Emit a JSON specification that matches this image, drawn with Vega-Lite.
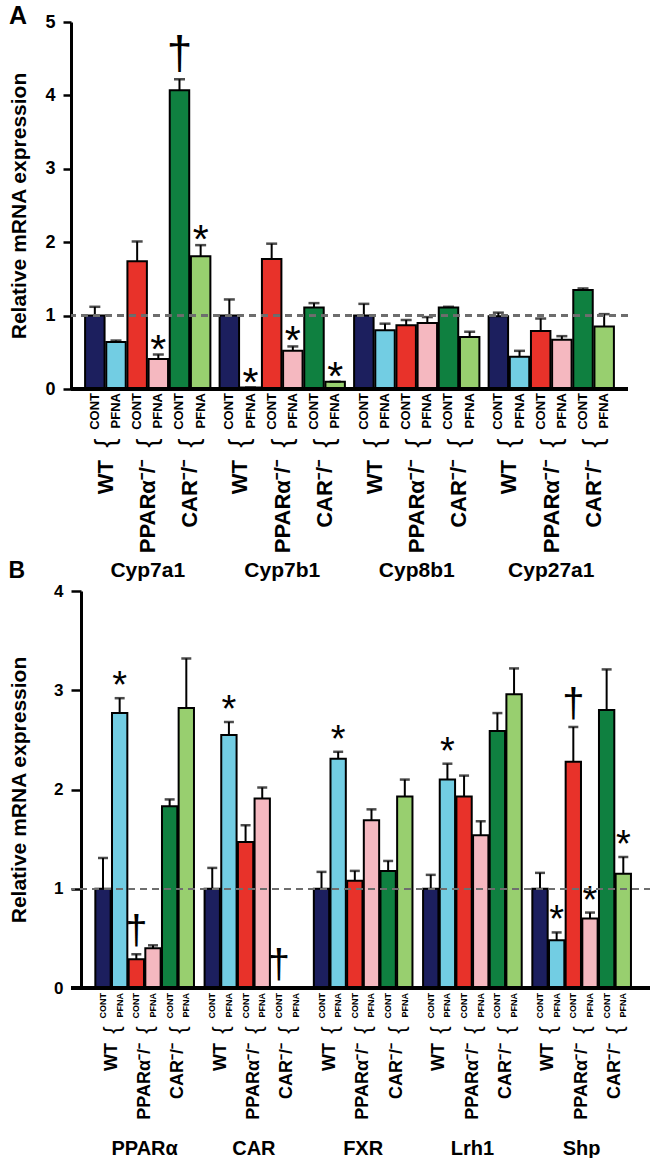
{
  "$schema": "https://vega.github.io/schema/vega-lite/v6.json",
  "padding": {"left": 8, "top": 4, "right": 0, "bottom": 0},
  "background": "white",
  "config": {"view": {"stroke": null}, "font": "Liberation Sans"},
  "datasets": {
    "A": [
      {"gene": "Cyp7a1", "geno": "WT", "trt": "CONT", "grp": "WT CONT", "val": 1.00, "err": 1.12, "sig": ""},
      {"gene": "Cyp7a1", "geno": "WT", "trt": "PFNA", "grp": "WT PFNA", "val": 0.64, "err": 0.66, "sig": ""},
      {"gene": "Cyp7a1", "geno": "PPARα⁻/⁻", "trt": "CONT", "grp": "PPARα CONT", "val": 1.74, "err": 2.01, "sig": ""},
      {"gene": "Cyp7a1", "geno": "PPARα⁻/⁻", "trt": "PFNA", "grp": "PPARα PFNA", "val": 0.41, "err": 0.47, "sig": "*"},
      {"gene": "Cyp7a1", "geno": "CAR⁻/⁻", "trt": "CONT", "grp": "CAR CONT", "val": 4.07, "err": 4.22, "sig": "†"},
      {"gene": "Cyp7a1", "geno": "CAR⁻/⁻", "trt": "PFNA", "grp": "CAR PFNA", "val": 1.81, "err": 1.96, "sig": "*"},
      {"gene": "Cyp7b1", "geno": "WT", "trt": "CONT", "grp": "WT CONT", "val": 1.00, "err": 1.22, "sig": ""},
      {"gene": "Cyp7b1", "geno": "WT", "trt": "PFNA", "grp": "WT PFNA", "val": 0.02, "err": 0.02, "sig": "*"},
      {"gene": "Cyp7b1", "geno": "PPARα⁻/⁻", "trt": "CONT", "grp": "PPARα CONT", "val": 1.77, "err": 1.98, "sig": ""},
      {"gene": "Cyp7b1", "geno": "PPARα⁻/⁻", "trt": "PFNA", "grp": "PPARα PFNA", "val": 0.52, "err": 0.58, "sig": "*"},
      {"gene": "Cyp7b1", "geno": "CAR⁻/⁻", "trt": "CONT", "grp": "CAR CONT", "val": 1.11, "err": 1.17, "sig": ""},
      {"gene": "Cyp7b1", "geno": "CAR⁻/⁻", "trt": "PFNA", "grp": "CAR PFNA", "val": 0.10, "err": 0.10, "sig": "*"},
      {"gene": "Cyp8b1", "geno": "WT", "trt": "CONT", "grp": "WT CONT", "val": 1.00, "err": 1.16, "sig": ""},
      {"gene": "Cyp8b1", "geno": "WT", "trt": "PFNA", "grp": "WT PFNA", "val": 0.80, "err": 0.89, "sig": ""},
      {"gene": "Cyp8b1", "geno": "PPARα⁻/⁻", "trt": "CONT", "grp": "PPARα CONT", "val": 0.87, "err": 0.94, "sig": ""},
      {"gene": "Cyp8b1", "geno": "PPARα⁻/⁻", "trt": "PFNA", "grp": "PPARα PFNA", "val": 0.90, "err": 0.98, "sig": ""},
      {"gene": "Cyp8b1", "geno": "CAR⁻/⁻", "trt": "CONT", "grp": "CAR CONT", "val": 1.11, "err": 1.12, "sig": ""},
      {"gene": "Cyp8b1", "geno": "CAR⁻/⁻", "trt": "PFNA", "grp": "CAR PFNA", "val": 0.71, "err": 0.78, "sig": ""},
      {"gene": "Cyp27a1", "geno": "WT", "trt": "CONT", "grp": "WT CONT", "val": 0.99, "err": 1.04, "sig": ""},
      {"gene": "Cyp27a1", "geno": "WT", "trt": "PFNA", "grp": "WT PFNA", "val": 0.44, "err": 0.52, "sig": ""},
      {"gene": "Cyp27a1", "geno": "PPARα⁻/⁻", "trt": "CONT", "grp": "PPARα CONT", "val": 0.79, "err": 0.96, "sig": ""},
      {"gene": "Cyp27a1", "geno": "PPARα⁻/⁻", "trt": "PFNA", "grp": "PPARα PFNA", "val": 0.67, "err": 0.72, "sig": ""},
      {"gene": "Cyp27a1", "geno": "CAR⁻/⁻", "trt": "CONT", "grp": "CAR CONT", "val": 1.35, "err": 1.37, "sig": ""},
      {"gene": "Cyp27a1", "geno": "CAR⁻/⁻", "trt": "PFNA", "grp": "CAR PFNA", "val": 0.85, "err": 1.02, "sig": ""}
    ],
    "B": [
      {"gene": "PPARα", "geno": "WT", "trt": "CONT", "grp": "WT CONT", "val": 1.00, "err": 1.31, "sig": ""},
      {"gene": "PPARα", "geno": "WT", "trt": "PFNA", "grp": "WT PFNA", "val": 2.77, "err": 2.92, "sig": "*"},
      {"gene": "PPARα", "geno": "PPARα⁻/⁻", "trt": "CONT", "grp": "PPARα CONT", "val": 0.29, "err": 0.34, "sig": "†"},
      {"gene": "PPARα", "geno": "PPARα⁻/⁻", "trt": "PFNA", "grp": "PPARα PFNA", "val": 0.40, "err": 0.43, "sig": ""},
      {"gene": "PPARα", "geno": "CAR⁻/⁻", "trt": "CONT", "grp": "CAR CONT", "val": 1.83, "err": 1.90, "sig": ""},
      {"gene": "PPARα", "geno": "CAR⁻/⁻", "trt": "PFNA", "grp": "CAR PFNA", "val": 2.82, "err": 3.32, "sig": ""},
      {"gene": "CAR", "geno": "WT", "trt": "CONT", "grp": "WT CONT", "val": 1.00, "err": 1.21, "sig": ""},
      {"gene": "CAR", "geno": "WT", "trt": "PFNA", "grp": "WT PFNA", "val": 2.55, "err": 2.68, "sig": "*"},
      {"gene": "CAR", "geno": "PPARα⁻/⁻", "trt": "CONT", "grp": "PPARα CONT", "val": 1.47, "err": 1.64, "sig": ""},
      {"gene": "CAR", "geno": "PPARα⁻/⁻", "trt": "PFNA", "grp": "PPARα PFNA", "val": 1.91, "err": 2.02, "sig": ""},
      {"gene": "CAR", "geno": "CAR⁻/⁻", "trt": "CONT", "grp": "CAR CONT", "val": 0, "err": 0, "sig": "†"},
      {"gene": "CAR", "geno": "CAR⁻/⁻", "trt": "PFNA", "grp": "CAR PFNA", "val": 0, "err": 0, "sig": ""},
      {"gene": "FXR", "geno": "WT", "trt": "CONT", "grp": "WT CONT", "val": 1.00, "err": 1.17, "sig": ""},
      {"gene": "FXR", "geno": "WT", "trt": "PFNA", "grp": "WT PFNA", "val": 2.31, "err": 2.38, "sig": "*"},
      {"gene": "FXR", "geno": "PPARα⁻/⁻", "trt": "CONT", "grp": "PPARα CONT", "val": 1.08, "err": 1.18, "sig": ""},
      {"gene": "FXR", "geno": "PPARα⁻/⁻", "trt": "PFNA", "grp": "PPARα PFNA", "val": 1.69, "err": 1.80, "sig": ""},
      {"gene": "FXR", "geno": "CAR⁻/⁻", "trt": "CONT", "grp": "CAR CONT", "val": 1.18, "err": 1.28, "sig": ""},
      {"gene": "FXR", "geno": "CAR⁻/⁻", "trt": "PFNA", "grp": "CAR PFNA", "val": 1.93, "err": 2.10, "sig": ""},
      {"gene": "Lrh1", "geno": "WT", "trt": "CONT", "grp": "WT CONT", "val": 1.00, "err": 1.14, "sig": ""},
      {"gene": "Lrh1", "geno": "WT", "trt": "PFNA", "grp": "WT PFNA", "val": 2.10, "err": 2.26, "sig": "*"},
      {"gene": "Lrh1", "geno": "PPARα⁻/⁻", "trt": "CONT", "grp": "PPARα CONT", "val": 1.93, "err": 2.14, "sig": ""},
      {"gene": "Lrh1", "geno": "PPARα⁻/⁻", "trt": "PFNA", "grp": "PPARα PFNA", "val": 1.54, "err": 1.68, "sig": ""},
      {"gene": "Lrh1", "geno": "CAR⁻/⁻", "trt": "CONT", "grp": "CAR CONT", "val": 2.59, "err": 2.77, "sig": ""},
      {"gene": "Lrh1", "geno": "CAR⁻/⁻", "trt": "PFNA", "grp": "CAR PFNA", "val": 2.96, "err": 3.22, "sig": ""},
      {"gene": "Shp", "geno": "WT", "trt": "CONT", "grp": "WT CONT", "val": 1.00, "err": 1.16, "sig": ""},
      {"gene": "Shp", "geno": "WT", "trt": "PFNA", "grp": "WT PFNA", "val": 0.48, "err": 0.56, "sig": "*"},
      {"gene": "Shp", "geno": "PPARα⁻/⁻", "trt": "CONT", "grp": "PPARα CONT", "val": 2.28, "err": 2.63, "sig": "†"},
      {"gene": "Shp", "geno": "PPARα⁻/⁻", "trt": "PFNA", "grp": "PPARα PFNA", "val": 0.70, "err": 0.76, "sig": "*"},
      {"gene": "Shp", "geno": "CAR⁻/⁻", "trt": "CONT", "grp": "CAR CONT", "val": 2.80, "err": 3.21, "sig": ""},
      {"gene": "Shp", "geno": "CAR⁻/⁻", "trt": "PFNA", "grp": "CAR PFNA", "val": 1.15, "err": 1.32, "sig": "*"}
    ]
  },
  "bounds": "flush",
  "spacing": 202,
  "resolve": {"scale": {"x": "independent", "xOffset": "independent", "y": "independent"}},
  "vconcat": [
    {
      "width": 557,
      "height": 367,
      "title": {"text": "A", "anchor": "start", "frame": "bounds", "fontSize": 25, "font": "Liberation Sans", "fontWeight": "bold", "color": "black", "baseline": "alphabetic", "offset": -25, "dy": 11},
      "data": {"name": "A"},
      "layer": [
        {
          "encoding": {
            "x": {"field": "gene", "type": "nominal", "sort": ["Cyp7a1", "Cyp7b1", "Cyp8b1", "Cyp27a1"], "scale": {"paddingInner": 0.056, "paddingOuter": 0.0985},
              "axis": {"title": null, "orient": "bottom", "offset": 170, "domain": false, "ticks": false, "labelAngle": 0, "labelFont": "Liberation Sans", "labelFontSize": 21, "labelFontWeight": "bold", "labelColor": "black", "labelPadding": 0}},
            "xOffset": {"field": "grp", "type": "nominal", "sort": ["WT CONT", "WT PFNA", "PPARα CONT", "PPARα PFNA", "CAR CONT", "CAR PFNA"], "scale": {"paddingInner": 0.08, "paddingOuter": 0.04}}
          },
          "layer": [
            {
              "mark": {"type": "bar", "stroke": "black", "strokeWidth": 2},
              "encoding": {
                "y": {"field": "val", "type": "quantitative", "scale": {"domain": [0, 5], "nice": false},
                  "axis": {"title": "Relative mRNA expression", "titleFont": "Liberation Sans", "titleFontSize": 21, "titleFontWeight": "bold", "titleColor": "black", "titlePadding": 15, "values": [0, 1, 2, 3, 4, 5], "format": "d", "labelFont": "Liberation Sans", "labelFontSize": 18, "labelFontWeight": "bold", "labelColor": "black", "labelPadding": 8, "tickSize": 8, "tickWidth": 2.5, "tickColor": "black", "domainColor": "black", "domainWidth": 3, "grid": false}},
                "color": {"field": "grp", "type": "nominal", "scale": {"domain": ["WT CONT", "WT PFNA", "PPARα CONT", "PPARα PFNA", "CAR CONT", "CAR PFNA"], "range": ["#1c1f5e", "#72cde3", "#e8322a", "#f5b8c0", "#0f8040", "#98cf6f"]}, "legend": null}
              }
            },
            {
              "mark": {"type": "rule", "color": "black", "strokeWidth": 2},
              "encoding": {"y": {"field": "val", "type": "quantitative"}, "y2": {"field": "err"}}
            },
            {
              "mark": {"type": "tick", "color": "black", "thickness": 2.5, "size": 11},
              "encoding": {"y": {"field": "err", "type": "quantitative"}}
            },
            {
              "transform": [{"filter": "datum.sig == '*'"}],
              "mark": {"type": "text", "fontSize": 41, "font": "Liberation Sans", "baseline": "alphabetic", "dy": 8, "color": "black"},
              "encoding": {"y": {"field": "err", "type": "quantitative"}, "text": {"field": "sig"}}
            },
            {
              "transform": [{"filter": "datum.sig == '†'"}],
              "mark": {"type": "text", "fontSize": 46, "font": "Liberation Sans", "baseline": "alphabetic", "dy": -10, "color": "black"},
              "encoding": {"y": {"field": "err", "type": "quantitative"}, "text": {"field": "sig"}}
            },
            {
              "mark": {"type": "text", "angle": 270, "align": "right", "baseline": "middle", "dx": -4, "fontSize": 13, "fontWeight": "bold", "font": "Liberation Sans", "color": "black"},
              "encoding": {"y": {"datum": 0}, "text": {"field": "trt"}}
            },
            {
              "transform": [{"filter": "datum.trt == 'CONT'"}],
              "mark": {"type": "text", "angle": 270, "align": "center", "baseline": "middle", "dx": -54, "dy": 11, "fontSize": 28, "font": "Liberation Sans", "color": "black"},
              "encoding": {"y": {"datum": 0}, "text": {"value": "{"}}
            },
            {
              "transform": [{"filter": "datum.trt == 'CONT'"}],
              "mark": {"type": "text", "angle": 270, "align": "right", "baseline": "middle", "dx": -71, "dy": 11, "fontSize": 22, "fontWeight": "bold", "font": "Liberation Sans", "color": "black"},
              "encoding": {"y": {"datum": 0}, "text": {"field": "geno"}}
            }
          ]
        },
        {
          "mark": {"type": "rule", "color": "#6e6e6e", "strokeWidth": 1.6, "strokeDash": [7, 5]},
          "encoding": {"y": {"datum": 1}}
        },
        {
          "mark": {"type": "rule", "color": "black", "strokeWidth": 3},
          "encoding": {"y": {"datum": 0}}
        }
      ]
    },
    {
      "width": 580,
      "height": 397,
      "title": {"text": "B", "anchor": "start", "frame": "bounds", "fontSize": 23, "font": "Liberation Sans", "fontWeight": "bold", "color": "black", "baseline": "alphabetic", "offset": -9, "dy": 10},
      "data": {"name": "B"},
      "layer": [
        {
          "encoding": {
            "x": {"field": "gene", "type": "nominal", "sort": ["PPARα", "CAR", "FXR", "Lrh1", "Shp"], "scale": {"paddingInner": 0.085, "paddingOuter": 0.197, "align": 0.55},
              "axis": {"title": null, "orient": "bottom", "offset": 150, "domain": false, "ticks": false, "labelAngle": 0, "labelFont": "Liberation Sans", "labelFontSize": 20, "labelFontWeight": "bold", "labelColor": "black", "labelPadding": 0}},
            "xOffset": {"field": "grp", "type": "nominal", "sort": ["WT CONT", "WT PFNA", "PPARα CONT", "PPARα PFNA", "CAR CONT", "CAR PFNA"], "scale": {"paddingInner": 0.08, "paddingOuter": 0.04}}
          },
          "layer": [
            {
              "mark": {"type": "bar", "stroke": "black", "strokeWidth": 2},
              "encoding": {
                "y": {"field": "val", "type": "quantitative", "scale": {"domain": [0, 4], "nice": false},
                  "axis": {"title": "Relative mRNA expression", "offset": -10, "titleFont": "Liberation Sans", "titleFontSize": 21, "titleFontWeight": "bold", "titleColor": "black", "titlePadding": 24, "values": [0, 1, 2, 3, 4], "format": "d", "labelFont": "Liberation Sans", "labelFontSize": 17, "labelFontWeight": "bold", "labelColor": "black", "labelPadding": 8, "tickSize": 10, "tickWidth": 2.5, "tickColor": "black", "domainColor": "black", "domainWidth": 3, "grid": false}},
                "color": {"field": "grp", "type": "nominal", "scale": {"domain": ["WT CONT", "WT PFNA", "PPARα CONT", "PPARα PFNA", "CAR CONT", "CAR PFNA"], "range": ["#1c1f5e", "#72cde3", "#e8322a", "#f5b8c0", "#0f8040", "#98cf6f"]}, "legend": null}
              }
            },
            {
              "mark": {"type": "rule", "color": "black", "strokeWidth": 2},
              "encoding": {"y": {"field": "val", "type": "quantitative"}, "y2": {"field": "err"}}
            },
            {
              "mark": {"type": "tick", "color": "black", "thickness": 2.5, "size": 10},
              "encoding": {"y": {"field": "err", "type": "quantitative"}}
            },
            {
              "transform": [{"filter": "datum.sig == '*'"}],
              "mark": {"type": "text", "fontSize": 38, "font": "Liberation Sans", "baseline": "alphabetic", "dy": 0, "color": "black"},
              "encoding": {"y": {"field": "err", "type": "quantitative"}, "text": {"field": "sig"}}
            },
            {
              "transform": [{"filter": "datum.sig == '†'"}],
              "mark": {"type": "text", "fontSize": 40, "font": "Liberation Sans", "baseline": "alphabetic", "dy": -10, "color": "black"},
              "encoding": {"y": {"field": "err", "type": "quantitative"}, "text": {"field": "sig"}}
            },
            {
              "mark": {"type": "text", "angle": 270, "align": "right", "baseline": "middle", "dx": -5, "fontSize": 9, "fontWeight": "bold", "font": "Liberation Sans", "color": "black"},
              "encoding": {"y": {"datum": 0}, "text": {"field": "trt"}}
            },
            {
              "transform": [{"filter": "datum.trt == 'CONT'"}],
              "mark": {"type": "text", "angle": 270, "align": "center", "baseline": "middle", "dx": -42, "dy": 8.5, "fontSize": 22, "font": "Liberation Sans", "color": "black"},
              "encoding": {"y": {"datum": 0}, "text": {"value": "{"}}
            },
            {
              "transform": [{"filter": "datum.trt == 'CONT'"}],
              "mark": {"type": "text", "angle": 270, "align": "right", "baseline": "middle", "dx": -55, "dy": 8.5, "fontSize": 18, "fontWeight": "bold", "font": "Liberation Sans", "color": "black"},
              "encoding": {"y": {"datum": 0}, "text": {"field": "geno"}}
            }
          ]
        },
        {
          "mark": {"type": "rule", "color": "#6e6e6e", "strokeWidth": 1.6, "strokeDash": [7, 5]},
          "encoding": {"y": {"datum": 1}}
        },
        {
          "mark": {"type": "rule", "color": "black", "strokeWidth": 3},
          "encoding": {"y": {"datum": 0}}
        }
      ]
    }
  ]
}
